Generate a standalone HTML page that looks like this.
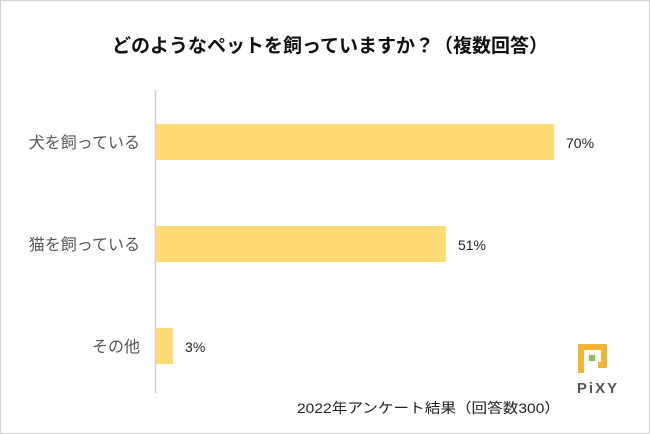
<!DOCTYPE html>
<html><head><meta charset="utf-8"><style>
body{margin:0;width:650px;height:434px;background:#fff;overflow:hidden;font-family:"Liberation Sans","Noto Sans CJK JP",sans-serif;}
#frame{position:absolute;left:0;top:0;width:648px;height:432px;border:1px solid #d0d0d0;}
</style></head><body>
<div id="frame"></div>
<svg width="650" height="434" style="position:absolute;left:0;top:0" id="chart">
<text x="330" y="52" text-anchor="middle" font-size="19" font-weight="bold" fill="#111">どのようなペットを飼っていますか？（複数回答）</text>
<line x1="155.5" y1="90" x2="155.5" y2="393" stroke="#d0d0d0" stroke-width="1.5"/>
<g id="bars"></g>
<text x="297" y="413" font-size="14" fill="#222" textLength="263" lengthAdjust="spacingAndGlyphs">2022年アンケート結果（回答数300）</text>
<g>
<path d="M578 344 H607 V368 H598 V362 H601 V350 H584 V373 H578 Z" fill="#f5b335"/>
<rect x="589" y="355" width="6" height="6" fill="#8cc152"/>
<text x="598" y="393" text-anchor="middle" font-size="15" font-weight="bold" fill="#555" letter-spacing="2">PiXY</text>
</g>
</svg>
<script>
const categories=["犬を飼っている","猫を飼っている","その他"];
const values=[70,51,3];
const valueLabels=["70%","51%","3%"];
const x0=156, pxPer=5.686;
const xs=v=>x0+v*pxPer;
const ys=i=>124+i*102;
const g=document.getElementById('bars');
const ns="http://www.w3.org/2000/svg";
categories.forEach((c,i)=>{
 const r=document.createElementNS(ns,'rect');
 r.setAttribute('x',x0);r.setAttribute('y',ys(i));
 r.setAttribute('width',xs(values[i])-x0);r.setAttribute('height',36);
 r.setAttribute('fill','#ffdc73');
 
 
 g.appendChild(r);
 const t=document.createElementNS(ns,'text');
 t.setAttribute('x',140);t.setAttribute('y',ys(i)+24);
 t.setAttribute('text-anchor','end');t.setAttribute('font-size','16');t.setAttribute('fill','#555');
 t.textContent=c;
 
 
 g.appendChild(t);
 const v=document.createElementNS(ns,'text');
 v.setAttribute('x',xs(values[i])+12);v.setAttribute('y',ys(i)+24);
 v.setAttribute('font-size','14');v.setAttribute('fill','#222');
 v.textContent=valueLabels[i];
 
 
 g.appendChild(v);
});
</script>
</body></html>
